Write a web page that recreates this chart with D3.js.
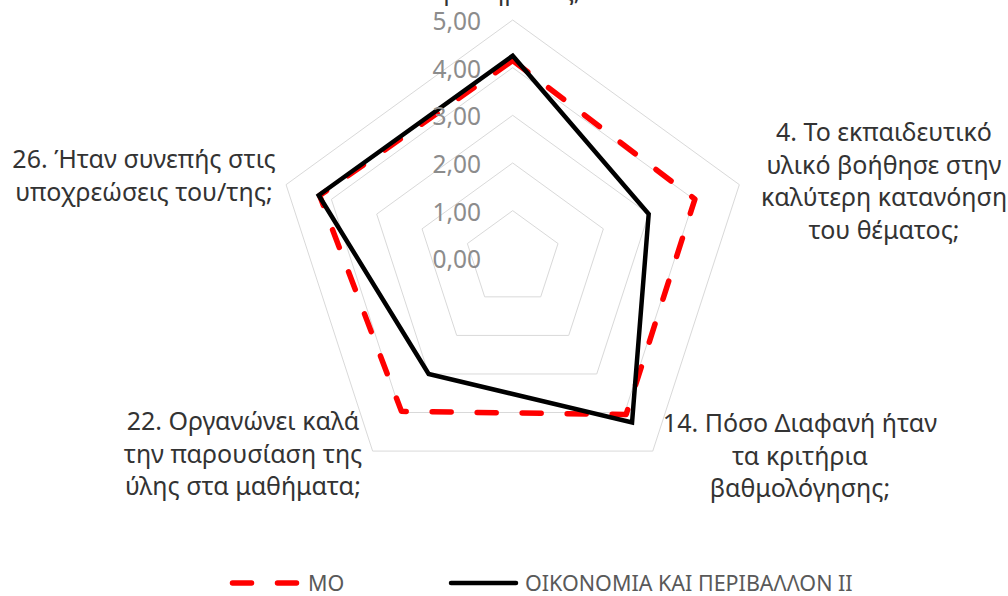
<!DOCTYPE html>
<html><head><meta charset="utf-8">
<script src="https://cdn.jsdelivr.net/npm/d3@7"></script>
<style>body{margin:0;background:#fff} svg{display:block}</style>
</head><body>
<svg id="c" width="1008" height="596"></svg>
<script>
// ---- data ----
const categories = [
  "1. Ήταν σαφείς οι στόχοι του μαθήματος;",
  "4. Το εκπαιδευτικό υλικό βοήθησε στην καλύτερη κατανόηση του θέματος;",
  "14. Πόσο Διαφανή ήταν τα κριτήρια βαθμολόγησης;",
  "22. Οργανώνει καλά την παρουσίαση της ύλης στα μαθήματα;",
  "26. Ήταν συνεπής στις υποχρεώσεις του/της;"
];
const categoryLines = [
  ["1. Ήταν σαφείς οι", "στόχοι του", "μαθήματος;"],
  ["4. Το εκπαιδευτικό", "υλικό βοήθησε στην", "καλύτερη κατανόηση", "του θέματος;"],
  ["14. Πόσο Διαφανή ήταν", "τα κριτήρια", "βαθμολόγησης;"],
  ["22. Οργανώνει καλά", "την παρουσίαση της", "ύλης στα μαθήματα;"],
  ["26. Ήταν συνεπής στις", "υποχρεώσεις του/της;"]
];
const seriesNames = ["ΜΟ", "ΟΙΚΟΝΟΜΙΑ ΚΑΙ ΠΕΡΙΒΑΛΛΟΝ ΙΙ"];
const moValues = [4.15, 4.02, 4.05, 3.97, 4.26];
const courseValues = [4.25, 3.00, 4.26, 3.00, 4.28];
const tickValues = [0, 1, 2, 3, 4, 5];
const tickLabels = ["0,00", "1,00", "2,00", "3,00", "4,00", "5,00"];

// ---- layout ----
const svg = d3.select("#c");
const cx = 512.7, cy = 258.3, R = 238.3;
const FONT = "'Noto Sans', 'DejaVu Sans', sans-serif";
const r = d3.scaleLinear().domain([0, 5]).range([0, R]);
const angle = d3.scaleLinear().domain([0, categories.length]).range([0, 2 * Math.PI]);
const g = svg.append("g").attr("transform", `translate(${cx},${cy})`);

// grid rings
const ringLine = d3.lineRadial().angle((d, i) => angle(i)).radius(d => r(d)).curve(d3.curveLinearClosed);
g.selectAll("path.ring").data(tickValues.filter(v => v > 0)).enter().append("path")
  .attr("class", "ring")
  .attr("d", v => ringLine(categories.map(() => v)))
  .attr("fill", "none").attr("stroke", "#d9d9d9").attr("stroke-width", 1);

// series
const seriesLine = d3.lineRadial().angle((d, i) => angle(i)).radius(d => r(d)).curve(d3.curveLinearClosed);
g.append("path").attr("d", seriesLine(moValues))
  .attr("fill", "none").attr("stroke", "#ff0000").attr("stroke-width", 5.5)
  .attr("stroke-dasharray", "19 26").attr("stroke-linecap", "round").attr("stroke-linejoin", "round");
g.append("path").attr("d", seriesLine(courseValues))
  .attr("fill", "none").attr("stroke", "#000000").attr("stroke-width", 4.5)
  .attr("stroke-linejoin", "miter");

// tick labels
svg.selectAll("text.tick").data(tickValues).enter().append("text")
  .attr("class", "tick")
  .attr("x", 481).attr("y", v => cy - r(v) + 10)
  .attr("text-anchor", "end")
  .attr("font-family", FONT).attr("font-size", 24.5).attr("fill", "#8c8c8c")
  .text((v, i) => tickLabels[i]);

// category labels
const labelPos = [
  {x: 512, y: -65},
  {x: 884, y: 141},
  {x: 800, y: 432},
  {x: 243, y: 430},
  {x: 144, y: 168}
];
const lh = 32.5;
categoryLines.forEach((lines, i) => {
  const t = svg.append("text")
    .attr("font-family", FONT).attr("font-size", 25).attr("fill", "#333333")
    .attr("text-anchor", "middle");
  lines.forEach((ln, j) => {
    t.append("tspan").attr("x", labelPos[i].x).attr("y", labelPos[i].y + j * lh).text(ln);
  });
});

// legend
const ly = 583;
svg.append("line").attr("x1", 232.5).attr("x2", 296.5).attr("y1", ly).attr("y2", ly)
  .attr("stroke", "#ff0000").attr("stroke-width", 5.5)
  .attr("stroke-dasharray", "19 26").attr("stroke-linecap", "round");
svg.append("text").attr("x", 308).attr("y", ly + 8)
  .attr("font-family", FONT).attr("font-size", 21.5).attr("fill", "#595959").text(seriesNames[0]);
svg.append("line").attr("x1", 451).attr("x2", 516).attr("y1", ly).attr("y2", ly)
  .attr("stroke", "#000000").attr("stroke-width", 4.5).attr("stroke-linecap", "round");
svg.append("text").attr("x", 525).attr("y", ly + 8)
  .attr("font-family", FONT).attr("font-size", 21.5).attr("fill", "#595959").text(seriesNames[1]);
</script>
</body></html>
